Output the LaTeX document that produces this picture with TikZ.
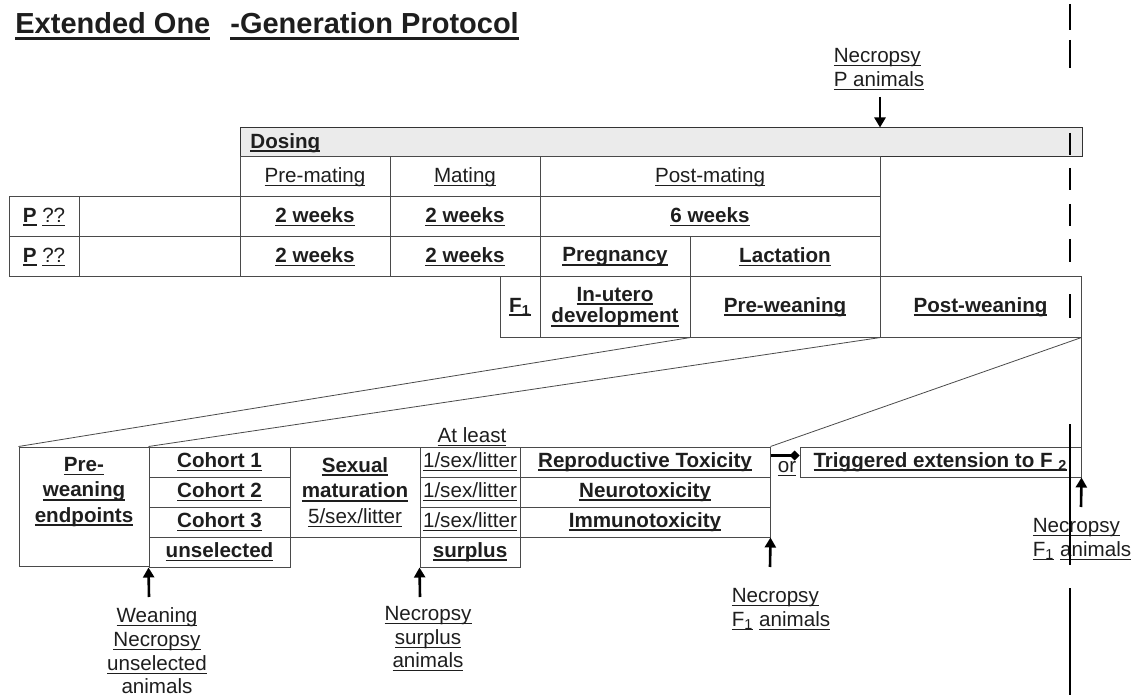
\documentclass[tikz,border=0pt]{standalone}
\usepackage{fontspec}
\setmainfont{Liberation Sans}
\usetikzlibrary{arrows.meta,positioning,calc,fit}

\definecolor{dosegray}{HTML}{EBEBEB}
\definecolor{rulegray}{HTML}{4A4A4A}
\definecolor{inkgray}{HTML}{1E1E1E}

% underlined text, Word style
\newsavebox{\ulbox}
\newcommand{\ulx}[3]{\leavevmode\sbox{\ulbox}{#3}\rlap{\rule[-#1]{\wd\ulbox}{#2}}\usebox{\ulbox}}
\newcommand{\ul}[1]{\ulx{1.7pt}{0.5pt}{#1}}
\newcommand{\ulb}[1]{\ulx{1.9pt}{0.9pt}{\textbf{#1}}}

\begin{document}
\begin{tikzpicture}[
    x=0.5pt, y=-0.5pt,
    every node/.style={font=\fontsize{10.3}{11.8}\selectfont, text=inkgray},
    cell/.style={draw=rulegray, line width=0.5pt, inner sep=0pt, label=center:{#1}},
    cell/.default={},
    fan/.style={draw=rulegray, line width=0.4pt},
    arr/.style={draw=black, line width=1.3pt, -{Triangle[width=5.5pt,length=5pt]}},
    note/.style={inner sep=0pt},
    vline/.style={draw=black, line width=1pt},
]
\useasboundingbox (0,0) rectangle (1140,695);

\node[anchor=base west, inner sep=0pt, font=\fontsize{14.5}{17}\selectfont\bfseries] (title) at (15,34)
    {\ulx{3pt}{1.5pt}{Extended One}\hspace{10pt}\ulx{3pt}{1.5pt}{-Generation Protocol}};

% P generation
\node[draw=black!80, line width=0.5pt, fill=dosegray, inner sep=0pt, fit={(240,128) (1082,157)}] (dose) {};
\node[anchor=west, inner sep=0pt] (dosing) at (250,143) {\ulb{Dosing}};
\node[cell={\ul{Pre-mating}}, fit={(240,157) (390,197)}] (hpre) {};
\node[cell={\ul{Mating}}, fit={(390,157) (540,197)}] (hmat) {};
\node[cell={\ul{Post-mating}}, fit={(540,157) (880,197)}] (hpost) {};

\node[cell={\ulb{P} \ul{??}}, fit={(9,197) (79,237)}] (pa1) {};
\node[cell, fit={(79,197) (240,237)}] (pb1) {};
\node[cell={\ulb{2 weeks}}, fit={(240,197) (390,237)}] (wa1) {};
\node[cell={\ulb{2 weeks}}, fit={(390,197) (540,237)}] (wb1) {};
\node[cell={\ulb{6 weeks}}, fit={(540,197) (880,237)}] (wc1) {};

\node[cell={\ulb{P} \ul{??}}, fit={(9,237) (79,277)}] (pa2) {};
\node[cell, fit={(79,237) (240,277)}] (pb2) {};
\node[cell={\ulb{2 weeks}}, fit={(240,237) (390,277)}] (wa2) {};
\node[cell={\ulb{2 weeks}}, fit={(390,237) (540,277)}] (wb2) {};
\node[cell={\ulb{Pregnancy}}, fit={(540,237) (690,277)}] (preg) {};
\node[cell={\ulb{Lactation}}, fit={(690,237) (880,277)}] (lact) {};

% F1 generation
\node[cell={\ulb{F\textsubscript{1}}}, fit={(500,277) (540,337)}] (fone) {};
\node[cell, fit={(540,277) (690,337)},
      label={[align=center, font=\fontsize{10.3}{10.8}\selectfont]center:{\ulb{In-utero}\\\ulb{development}}}] (utero) {};
\node[cell={\ulb{Pre-weaning}}, fit={(690,277) (880,337)}] (prewean) {};
\node[cell={\ulb{Post-weaning}}, fit={(880,277) (1081,337)}] (postwean) {};

% cohorts
\node[cell, fit={(19,447) (149,566)}] (endp) {};
\node[align=center, inner sep=0pt, font=\fontsize{10.3}{12.7}\selectfont] (endtxt) at (84,492)
    {\ulb{Pre-}\\\ulb{weaning}\\\ulb{endpoints}};
\node[cell={\ulb{Cohort 1}}, fit={(149,447) (290,477)}] (coh1) {};
\node[cell={\ulb{Cohort 2}}, fit={(149,477) (290,507)}] (coh2) {};
\node[cell={\ulb{Cohort 3}}, fit={(149,507) (290,537)}] (coh3) {};
\node[cell={\ulb{unselected}}, fit={(149,537) (290,567)}] (unsel) {};
\node[cell, fit={(290,447) (420,537)},
      label={[align=center, font=\fontsize{10.3}{12.7}\selectfont]center:{\ulb{Sexual}\\\ulb{maturation}\\\ul{5/sex/litter}}}] (sexmat) {};
\node[cell={\ul{1/sex/litter}}, fit={(420,447) (520,477)}] (lit1) {};
\node[cell={\ul{1/sex/litter}}, fit={(420,477) (520,507)}] (lit2) {};
\node[cell={\ul{1/sex/litter}}, fit={(420,507) (520,537)}] (lit3) {};
\node[cell={\ulb{surplus}}, fit={(420,537) (520,567)}] (surp) {};
\node[cell={\ulb{Reproductive Toxicity}}, fit={(520,447) (770,477)}] (repro) {};
\node[cell={\ulb{Neurotoxicity}}, fit={(520,477) (770,507)}] (neuro) {};
\node[cell={\ulb{Immunotoxicity}}, fit={(520,507) (770,537)}] (immuno) {};
\node[cell={\ulb{Triggered extension to F \textsubscript{2}}}, fit={(800,447) (1081,477)}] (trig) {};

\node[note] (atleast) at (472,437) {\ul{At least}};
\node[note] (ortxt) at (787,469) {\ul{or}};

% fan-out lines
\draw[fan] (utero.south east) -- (endp.north west);
\draw[fan] (prewean.south east) -- (coh1.north west);
\draw[fan] (postwean.south east) -- (repro.north east);
\draw[fan] (postwean.south east) -- (trig.north east);

\draw[line width=1.3pt, -{Diamond[width=5pt,length=5pt]}] ($(repro.north east)+(0,9)$) -- ($(trig.north west)+(0,9)$);

% necropsy points
\node[note, align=left] (necp) at (879,69) {\ul{Necropsy}\\\ul{P animals}};
\node[note, align=center] (necw) at (157,651) {\ul{Weaning}\\\ul{Necropsy}\\\ul{unselected}\\animals};
\node[note, align=center] (necs) at (428,639) {\ul{Necropsy}\\\ul{surplus}\\\ul{animals}};
\node[note, align=left] (necf) at (781,609) {\ul{Necropsy}\\\ul{F\textsubscript{1}} \ul{animals}};
\node[note, align=left] (necft) at (1082,539) {\ul{Necropsy}\\\ul{F\textsubscript{1}} \ul{animals}};

\coordinate (pa) at (880,97);
\coordinate (wa) at (149,597);
\coordinate (sa) at (420,597);
\coordinate (fa) at (770,567);
\coordinate (ta) at (1081,507);
\draw[arr] (pa) -- (pa |- dose.north);
\draw[arr] (wa) -- (unsel.south west);
\draw[arr] (sa) -- (surp.south west);
\draw[arr] (fa) -- (immuno.south east);
\draw[arr] (ta) -- (trig.south east);

% time line on the right
\foreach \a/\b in {4/30, 40/68, 133/155, 168/190, 204/226, 239/262, 294/318, 424/565, 588/695}
    \draw[vline] (1070,\a) -- (1070,\b);
\end{tikzpicture}
\end{document}
